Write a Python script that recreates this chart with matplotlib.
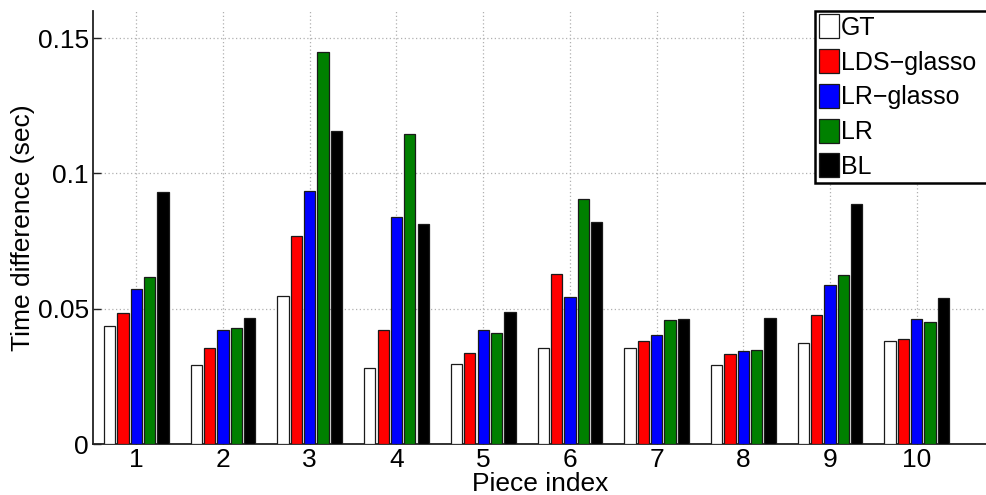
import numpy as np
import matplotlib
matplotlib.use("Agg")
import matplotlib.pyplot as plt
from matplotlib.patches import Rectangle

plt.rcParams['font.family'] = ['Liberation Sans', 'DejaVu Sans']

pieces = [1, 2, 3, 4, 5, 6, 7, 8, 9, 10]
methods = ["GT", "LDS\u2212glasso", "LR\u2212glasso", "LR", "BL"]
colors = ["#ffffff", "#ff0000", "#0000ff", "#008000", "#000000"]

gt = [0.0437, 0.0293, 0.0547, 0.0282, 0.0295, 0.0356, 0.0355, 0.0292, 0.0375, 0.0382]
lds_glasso = [0.0484, 0.0353, 0.0768, 0.0420, 0.0336, 0.0630, 0.0382, 0.0332, 0.0476, 0.0387]
lr_glasso = [0.0573, 0.0423, 0.0936, 0.0838, 0.0420, 0.0544, 0.0404, 0.0343, 0.0588, 0.0463]
lr = [0.0617, 0.0429, 0.1450, 0.1145, 0.0411, 0.0904, 0.0459, 0.0347, 0.0624, 0.0449]
bl = [0.0931, 0.0465, 0.1155, 0.0812, 0.0486, 0.0819, 0.0463, 0.0467, 0.0888, 0.0539]
series = [gt, lds_glasso, lr_glasso, lr, bl]

yticks = [0, 0.05, 0.1, 0.15]
yticklabels = ["0", "0.05", "0.1", "0.15"]

fig = plt.figure(figsize=(9.87, 4.95), dpi=100)
ax = fig.add_axes([93 / 987, 1 - 444 / 495, 1 - 93 / 987, (444 - 11) / 495])

x = np.array(pieces, dtype=float)
pitch = 0.154
width = 0.13
for i, (vals, name, col) in enumerate(zip(series, methods, colors)):
    ax.bar(x + (i - 2) * pitch, vals, width=width, color=col,
           edgecolor="#1a1a1a", linewidth=0.9, label=name, zorder=3)

ax.set_xlim(0.5, 10.81)
ax.set_ylim(0, 0.16)
ax.set_xticks(pieces)
ax.set_xticklabels([str(p) for p in pieces])
ax.set_yticks(yticks)
ax.set_yticklabels(yticklabels)

ax.grid(True, linestyle=(0, (1, 2)), color="#b0b0b0", linewidth=0.9, zorder=0)
ax.set_axisbelow(True)

for side in ["top", "right"]:
    ax.spines[side].set_visible(False)
for side in ["left", "bottom"]:
    ax.spines[side].set_color("#222222")
    ax.spines[side].set_linewidth(1.3)

ax.tick_params(direction="in", length=6, width=1.0, labelsize=19, pad=3,
               colors="#222222", labelcolor="black")

ax.set_xlabel("Piece index", fontsize=19, labelpad=0)
ax.set_ylabel("Time difference (sec)", fontsize=19, labelpad=2)

leg = ax.legend(loc="upper left", bbox_to_anchor=(815 / 987, 1 - 10.7 / 495),
                bbox_transform=fig.transFigure, fontsize=18, frameon=False,
                borderpad=0.15, borderaxespad=0,
                handlelength=0.8, handleheight=1.1, handletextpad=0.1,
                labelspacing=0.37)

# legend frame: white box with a black border that runs past the right edge
fig.canvas.draw()
bb = leg.get_window_extent().transformed(fig.transFigure.inverted())
box = Rectangle((bb.x0, bb.y0), 1.1 - bb.x0, bb.height,
                transform=fig.transFigure, facecolor="white",
                edgecolor="black", linewidth=1.8, zorder=4)
ax.add_artist(box)
box.set_clip_on(False)
leg.set_zorder(5)

fig.savefig("out.png", dpi=100)
